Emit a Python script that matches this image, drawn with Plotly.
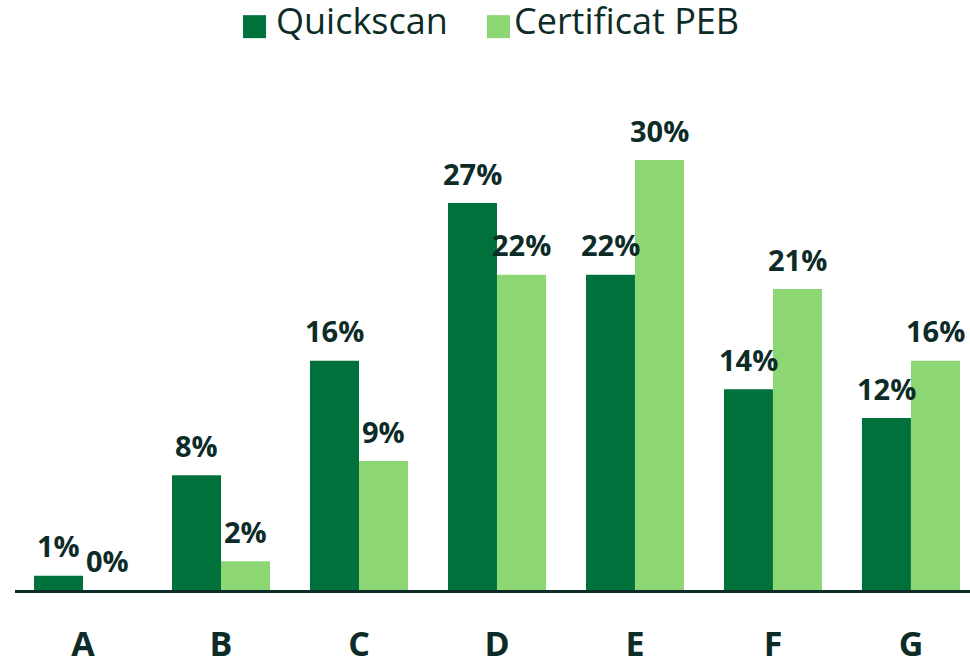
import plotly.graph_objects as go

categories = ["A", "B", "C", "D", "E", "F", "G"]
quickscan = [1, 8, 16, 27, 22, 14, 12]
certificat = [0, 2, 9, 22, 30, 21, 16]
series_names = ["Quickscan", "Certificat PEB"]

dark_green = "#00713a"
light_green = "#8cd674"
text_color = "#0d2b27"
font_family = "Open Sans"

fig = go.Figure()
fig.add_trace(go.Bar(x=categories, y=quickscan, name=series_names[0],
                     marker=dict(color=dark_green, line=dict(width=0))))
fig.add_trace(go.Bar(x=categories, y=certificat, name=series_names[1],
                     marker=dict(color=light_green, line=dict(width=0))))

# value labels above each bar
annotations = []
for vals, shift in [(quickscan, -24.5), (certificat, 24.5)]:
    for cat, v in zip(categories, vals):
        annotations.append(dict(
            x=cat, y=v, xref="x", yref="y", text=f"{v}%", showarrow=False,
            xshift=shift, yshift=30,
            font=dict(family=font_family, size=29, color=text_color, weight=700)))

# custom legend (big square swatches)
square_y = 1.191
text_y = 1.203
legend_items = [(series_names[0], dark_green, 0.2388, 0.2712),
                (series_names[1], light_green, 0.4942, 0.5205)]
shapes = []
for name, color, sq_x, txt_x in legend_items:
    shapes.append(dict(type="rect", xref="paper", yref="paper",
                       xsizemode="pixel", ysizemode="pixel",
                       xanchor=sq_x, yanchor=square_y,
                       x0=0, x1=23, y0=-11.5, y1=11.5,
                       fillcolor=color, line=dict(width=0)))
    annotations.append(dict(x=txt_x, y=text_y, xref="paper", yref="paper",
                            text=name, showarrow=False, xanchor="left", yanchor="middle",
                            font=dict(family=font_family, size=36, color=text_color)))

fig.update_layout(
    width=970, height=659,
    margin=dict(l=15, r=0, t=117, b=69),
    paper_bgcolor="white", plot_bgcolor="white",
    barmode="group", bargap=0.29, bargroupgap=0,
    showlegend=False,
    annotations=annotations, shapes=shapes,
    xaxis=dict(range=[-0.493, 6.428], showline=True, linecolor=text_color, linewidth=3,
               showgrid=False, ticks="", ticklabelstandoff=22, automargin=False,
               tickfont=dict(family=font_family, size=34, color=text_color, weight=700)),
    yaxis=dict(range=[0, 33], visible=False, showgrid=False, zeroline=False),
)

# drop the default page margin so the figure fills the window exactly
fig.write_html("out.html", config={"displayModeBar": False},
               post_script="document.body.style.margin = '0';")
